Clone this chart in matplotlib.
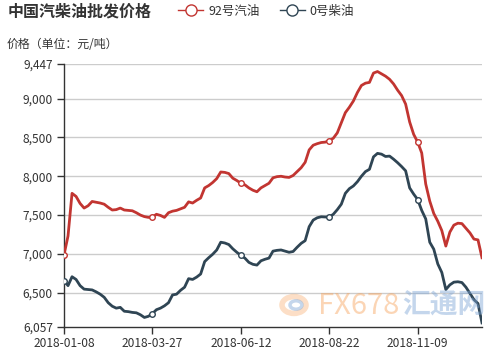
import numpy as np
import matplotlib.pyplot as plt
from matplotlib.lines import Line2D
from matplotlib.patches import Circle

plt.rcParams['font.family'] = ['Noto Sans CJK SC', 'DejaVu Sans']

# 数据
tick_labels = ['2018-01-08', '2018-03-27', '2018-06-12', '2018-08-22', '2018-11-09']
tick_step = 22

gasoline92 = [6985, 7230, 7780, 7740, 7650, 7590, 7620, 7675, 7665, 7655,
              7640, 7600, 7565, 7570, 7590, 7565, 7560, 7555, 7530, 7500,
              7480, 7470, 7475, 7510, 7495, 7470, 7530, 7550, 7560, 7580,
              7600, 7670, 7655, 7690, 7720, 7850, 7880, 7920, 7970, 8055,
              8050, 8035, 7975, 7945, 7910, 7890, 7850, 7820, 7800, 7850,
              7880, 7910, 7980, 7995, 8000, 7990, 7985, 8010, 8060, 8110,
              8180, 8340, 8400, 8420, 8435, 8440, 8460, 8490, 8560, 8690,
              8820, 8890, 8970, 9080, 9170, 9200, 9210, 9330, 9350, 9320,
              9290, 9250, 9190, 9110, 9040, 8930, 8700, 8540, 8440, 8300,
              7900, 7680, 7520, 7420, 7300, 7100, 7280, 7370, 7395, 7390,
              7330, 7270, 7190, 7180, 6950]

diesel0 = [6655, 6590, 6705, 6670, 6590, 6545, 6540, 6535, 6510, 6480,
           6440, 6370, 6325, 6300, 6310, 6260, 6255, 6245, 6240, 6215,
           6180, 6195, 6230, 6280, 6300, 6330, 6370, 6470, 6480, 6530,
           6570, 6680, 6670, 6700, 6740, 6900, 6950, 6995, 7050, 7150,
           7140, 7120, 7065, 7020, 6980, 6945, 6890, 6865, 6855, 6910,
           6930, 6945, 7035, 7045, 7050, 7035, 7020, 7030, 7085, 7135,
           7170, 7350, 7435, 7465, 7478, 7475, 7475, 7510, 7570, 7640,
           7780, 7840, 7875, 7930, 8000, 8060, 8090, 8250, 8295, 8285,
           8255, 8260, 8220, 8175, 8125, 8070, 7850, 7770, 7700, 7560,
           7450, 7150, 7060, 6870, 6760, 6540, 6600, 6635, 6640, 6630,
           6570, 6490, 6410, 6360, 6110]

y_min, y_max = 6057, 9447
y_ticks = [6057, 6500, 7000, 7500, 8000, 8500, 9000, 9447]

red = '#c23531'
navy = '#2f4554'

fig = plt.figure(figsize=(5.01, 3.51), dpi=100)
ax = fig.add_axes([64/501, 1-327/351, (482-64)/501, (327-64)/351])

x = np.arange(len(gasoline92))
mk = x[::tick_step]
ax.plot(x, gasoline92, color=red, lw=2, zorder=3)
ax.plot(x, diesel0, color=navy, lw=2, zorder=3)
ax.plot(mk, np.array(gasoline92)[mk], 'o', ms=4, mfc='white', mec=red, mew=1, zorder=4)
ax.plot(mk, np.array(diesel0)[mk], 'o', ms=4, mfc='white', mec=navy, mew=1, zorder=4)

ax.set_xlim(0, len(x)-1)
ax.set_ylim(y_min, y_max)
ax.set_yticks(y_ticks)
ax.set_yticklabels([f'{v:,}' for v in y_ticks])
ax.set_xticks(mk)
ax.set_xticklabels(tick_labels)
for v in y_ticks[1:]:
    ax.axhline(v, color='#cccccc', lw=1, zorder=1)

for s in ['top', 'right']:
    ax.spines[s].set_visible(False)
for s in ['left', 'bottom']:
    ax.spines[s].set_color('#333333')
    ax.spines[s].set_linewidth(1)
ax.tick_params(axis='both', colors='#333333', labelsize=8.6, length=5, width=1, pad=2)
ax.tick_params(axis='y', pad=3)

fig.text(8/501, 1-12/351, '中国汽柴油批发价格', fontsize=11.5, fontweight='bold',
         color='#333333', va='center', ha='left')
fig.text(7/501, 1-44/351, '价格（单位：元/吨）', fontsize=8.6, color='#333333',
         va='center', ha='left')

handles = [Line2D([], [], color=red, lw=1, marker='o', ms=8, mfc='white', mec=red, mew=1),
           Line2D([], [], color=navy, lw=1, marker='o', ms=8, mfc='white', mec=navy, mew=1)]
fig.legend(handles, ['92号汽油', '0号柴油'], loc='center left', ncol=2,
           bbox_to_anchor=(172/501, 1-11/351), frameon=False, fontsize=9,
           handlelength=2.0, handletextpad=0.4, columnspacing=1.6, borderpad=0,
           labelcolor='#333333')

# 水印
fig.patches.append(Circle((294/501, 1-305/351), 12/501, transform=fig.transFigure,
                          fill=False, ec='#f7a35c', lw=4, alpha=0.35))
fig.patches.append(Circle((296/501, 1-305/351), 6/501, transform=fig.transFigure,
                          fill=False, ec='#7ea6d6', lw=2.5, alpha=0.45))
fig.text(318/501, 1-306/351, 'FX678', fontsize=21, color='#f7a35c', alpha=0.45,
         va='center', ha='left')
fig.text(402/501, 1-306/351, '汇通网', fontsize=20, color='#7ea6d6', alpha=0.45,
         va='center', ha='left', fontweight='bold')

fig.savefig('out.png', dpi=100)
